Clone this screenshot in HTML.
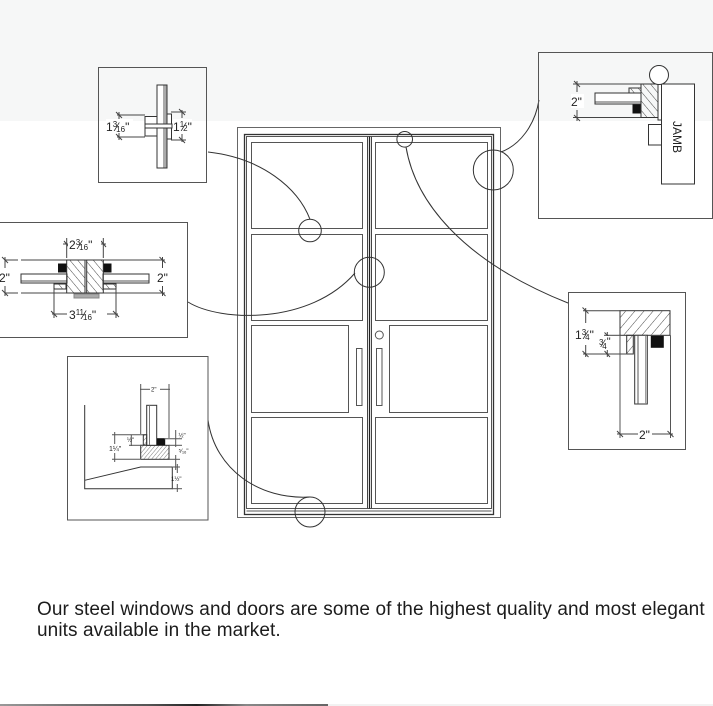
<!DOCTYPE html>
<html>
<head>
<meta charset="utf-8">
<style>
html,body{margin:0;padding:0;background:#fff;}
body{width:713px;height:706px;position:relative;overflow:hidden;}
svg{position:absolute;left:0;top:0;}
.p{position:absolute;left:37px;top:599px;font-family:"Liberation Sans",sans-serif;font-size:19px;line-height:21px;color:#1c1c1c;white-space:nowrap;letter-spacing:0.1px;}
</style>
</head>
<body>
<svg width="713" height="706" viewBox="0 0 713 706" xmlns="http://www.w3.org/2000/svg" font-family="Liberation Sans, sans-serif">
<defs>
<pattern id="hb" patternUnits="userSpaceOnUse" width="6" height="6" patternTransform="rotate(-40)"><line x1="0" y1="0" x2="0" y2="6" stroke="#333" stroke-width="0.9"/></pattern>
<pattern id="hf" patternUnits="userSpaceOnUse" width="7" height="7" patternTransform="rotate(40)"><line x1="0" y1="0" x2="0" y2="7" stroke="#333" stroke-width="0.9"/></pattern>
<pattern id="hs" patternUnits="userSpaceOnUse" width="3" height="3" patternTransform="rotate(40)"><line x1="0" y1="0" x2="0" y2="3" stroke="#444" stroke-width="0.7"/></pattern>
<linearGradient id="strip" x1="0" x2="1" y1="0" y2="0">
<stop offset="0" stop-color="#999"/><stop offset="0.2" stop-color="#777"/><stop offset="0.45" stop-color="#555"/><stop offset="0.6" stop-color="#222"/><stop offset="0.75" stop-color="#888"/><stop offset="1" stop-color="#666"/>
</linearGradient>
</defs>

<!-- top gray band -->
<rect x="0" y="0" width="713" height="121" fill="#f6f7f7"/>

<g fill="none" stroke="#444" stroke-width="1">

<!-- ===== DOOR ===== -->
<rect x="237.5" y="127.5" width="263" height="390" stroke="#666"/>
<rect x="244.5" y="134.5" width="249" height="380" stroke="#333" stroke-width="1.3"/>
<rect x="246.5" y="136.5" width="245" height="372" stroke="#555"/>
<line x1="246.5" y1="511" x2="491.5" y2="511" stroke="#555"/>
<line x1="367.5" y1="136.5" x2="367.5" y2="508.5" stroke="#444"/>
<line x1="369.5" y1="136.5" x2="369.5" y2="508.5" stroke="#222" stroke-width="1.3"/>
<line x1="371.5" y1="136.5" x2="371.5" y2="508.5" stroke="#444"/>
<!-- left panels -->
<rect x="251.5" y="142.5" width="111" height="86" stroke="#555"/>
<rect x="251.5" y="234.5" width="111" height="86" stroke="#555"/>
<rect x="251.5" y="325.5" width="97" height="87" stroke="#555"/>
<rect x="251.5" y="417.5" width="111" height="86" stroke="#555"/>
<!-- right panels -->
<rect x="375.5" y="142.5" width="112" height="86" stroke="#555"/>
<rect x="375.5" y="234.5" width="112" height="86" stroke="#555"/>
<rect x="389.5" y="325.5" width="98" height="87" stroke="#555"/>
<rect x="375.5" y="417.5" width="112" height="86" stroke="#555"/>
<!-- handles -->
<rect x="356.5" y="348.5" width="5.5" height="57" stroke="#555"/>
<rect x="376.5" y="348.5" width="5.5" height="57" stroke="#555"/>
<circle cx="379.3" cy="335" r="4" stroke="#555"/>

<!-- callout circles -->
<circle cx="310" cy="230.5" r="11.3" stroke="#333"/>
<circle cx="369.3" cy="272.3" r="15" stroke="#333"/>
<circle cx="404.7" cy="139.3" r="7.8" stroke="#333"/>
<circle cx="493.3" cy="170" r="20" stroke="#333"/>
<circle cx="310" cy="512" r="15" stroke="#333"/>

<!-- connectors -->
<path d="M208,152 C262,158 298,188 310,219.3" stroke="#333"/>
<path d="M188,302 C220,322 310,325 355,273" stroke="#333"/>
<path d="M406,147 C415,200 460,260 568,303" stroke="#333"/>
<path d="M501,152 C520,145 535,125 539,100" stroke="#333"/>
<path d="M208,420 C215,470 260,500 310,497" stroke="#333"/>

<!-- ===== BOX 1 (top-left) ===== -->
<rect x="98.5" y="67.5" width="108" height="115" stroke="#555"/>
<rect x="157" y="85" width="10" height="83" fill="#fff" stroke="#333"/>
<rect x="163" y="85.5" width="3.5" height="82" fill="#aaa" stroke="none"/>
<rect x="145" y="116.5" width="12" height="19.5" fill="#fff" stroke="#333"/>
<rect x="167" y="114" width="4.5" height="25" fill="#fff" stroke="#333"/>
<rect x="145" y="124" width="27" height="4" fill="#fff" stroke="#333"/>
<line x1="117" y1="115" x2="145" y2="115"/>
<line x1="117" y1="137" x2="145" y2="137"/>
<line x1="119" y1="112" x2="119" y2="120"/>
<line x1="119" y1="132" x2="119" y2="140"/>
<line x1="116" y1="112" x2="122" y2="118"/>
<line x1="116" y1="134" x2="122" y2="140"/>
<line x1="171" y1="112" x2="186" y2="112"/>
<line x1="171" y1="140" x2="186" y2="140"/>
<line x1="182" y1="110" x2="182" y2="118"/>
<line x1="182" y1="134" x2="182" y2="142"/>
<line x1="179" y1="109" x2="185" y2="115"/>
<line x1="179" y1="137" x2="185" y2="143"/>

<!-- ===== BOX 2 (top-right) ===== -->
<rect x="538.5" y="52.5" width="174" height="166" stroke="#555"/>
<line x1="573" y1="84" x2="641" y2="84"/>
<line x1="573" y1="117.5" x2="641" y2="117.5"/>
<line x1="577" y1="81" x2="577" y2="92"/>
<line x1="577" y1="110" x2="577" y2="121"/>
<line x1="574" y1="81" x2="580" y2="87"/>
<line x1="574" y1="115" x2="580" y2="121"/>
<rect x="595" y="93" width="46" height="11" fill="#fff" stroke="#333"/>
<rect x="595.5" y="101" width="45" height="2" fill="#aaa" stroke="none"/>
<rect x="629" y="88" width="12" height="5" fill="url(#hb)" stroke="#333"/>
<rect x="633" y="105" width="8" height="8" fill="#111" stroke="#111"/>
<rect x="641" y="84" width="17" height="33.5" fill="url(#hb)" stroke="#333"/>
<rect x="658" y="84" width="3.5" height="36" fill="#fff" stroke="#333"/>
<rect x="661.5" y="84" width="33" height="100" fill="#fff" stroke="#333"/>
<circle cx="659" cy="75" r="9.5" fill="#fff" stroke="#333"/>
<rect x="648.5" y="124.5" width="13" height="20.5" stroke="#333"/>

<!-- ===== BOX 3 (left middle) ===== -->
<rect x="-5" y="222.5" width="192.5" height="115" stroke="#555"/>
<line x1="5" y1="260" x2="18" y2="260"/><line x1="21" y1="260" x2="165" y2="260"/>
<line x1="5" y1="293" x2="18" y2="293"/><line x1="21" y1="293" x2="165" y2="293"/>
<line x1="5" y1="257" x2="5" y2="268"/><line x1="5" y1="286" x2="5" y2="296"/>
<line x1="2" y1="257" x2="8" y2="263"/><line x1="2" y1="290" x2="8" y2="296"/>
<line x1="162.5" y1="257" x2="162.5" y2="268"/><line x1="162.5" y1="286" x2="162.5" y2="296"/>
<line x1="159.5" y1="257" x2="165.5" y2="263"/><line x1="159.5" y1="290" x2="165.5" y2="296"/>
<rect x="21" y="274" width="46" height="9" fill="#fff" stroke="#333"/>
<rect x="21.5" y="280" width="45" height="2" fill="#aaa" stroke="none"/>
<rect x="103" y="274" width="46" height="9" fill="#fff" stroke="#333"/>
<rect x="103.5" y="280" width="45" height="2" fill="#aaa" stroke="none"/>
<rect x="58.5" y="264" width="7.5" height="8" fill="#111" stroke="#111"/>
<rect x="103.5" y="264" width="7.5" height="8" fill="#111" stroke="#111"/>
<rect x="66.7" y="260" width="18.3" height="33" fill="url(#hb)" stroke="#333"/>
<rect x="86.7" y="260" width="16.6" height="33" fill="url(#hb)" stroke="#333"/>
<rect x="54" y="284" width="12" height="5" fill="url(#hb)" stroke="#333"/>
<rect x="103" y="284" width="13" height="5" fill="url(#hb)" stroke="#333"/>
<rect x="74" y="294" width="25" height="4" fill="#aaa" stroke="#888"/>
<line x1="66.7" y1="238" x2="66.7" y2="258"/>
<line x1="103.3" y1="238" x2="103.3" y2="258"/>
<line x1="63" y1="244" x2="106" y2="244"/>
<line x1="64" y1="241" x2="69" y2="247"/><line x1="101" y1="241" x2="106" y2="247"/>
<line x1="54" y1="289" x2="54" y2="318"/>
<line x1="116" y1="289" x2="116" y2="318"/>
<line x1="52" y1="314" x2="118" y2="314"/>
<line x1="51" y1="311" x2="57" y2="317"/><line x1="113" y1="311" x2="119" y2="317"/>

<!-- ===== BOX 4 (bottom-left) ===== -->
<rect x="67.5" y="356.5" width="140.5" height="163.5" stroke="#555"/>
<polyline points="84.7,405 84.7,488.7 172.3,488.7 172.3,467 140.7,467 84.7,480.3" stroke="#333"/>
<rect x="140.7" y="445.3" width="28.3" height="14" fill="url(#hs)" stroke="#333"/>
<rect x="146.7" y="405.3" width="10" height="40" fill="#fff" stroke="#333"/>
<line x1="149.5" y1="405.3" x2="149.5" y2="445" stroke="#777"/>
<rect x="143.3" y="434.7" width="3.4" height="10.3" fill="url(#hs)" stroke="#333"/>
<rect x="157.3" y="438.7" width="7.4" height="6.3" fill="#111" stroke="#111"/>
<line x1="140.7" y1="384" x2="140.7" y2="434" stroke="#555"/>
<line x1="169" y1="384" x2="169" y2="438" stroke="#555"/>
<line x1="140" y1="389.3" x2="150" y2="389.3" stroke="#555"/>
<line x1="160" y1="389.3" x2="170" y2="389.3" stroke="#555"/>
<line x1="114.7" y1="432" x2="114.7" y2="444" stroke="#555"/>
<line x1="114.7" y1="453" x2="114.7" y2="462" stroke="#555"/>
<line x1="112" y1="434.7" x2="146" y2="434.7" stroke="#555"/>
<line x1="112" y1="459.3" x2="140" y2="459.3" stroke="#555"/>
<line x1="131.3" y1="434.7" x2="131.3" y2="446" stroke="#555"/>
<line x1="129" y1="445.3" x2="143" y2="445.3" stroke="#555"/>
<line x1="175.7" y1="430" x2="175.7" y2="447" stroke="#555"/>
<line x1="164" y1="438.7" x2="182" y2="438.7" stroke="#555"/>
<line x1="169" y1="445.3" x2="182" y2="445.3" stroke="#555"/>
<line x1="175.7" y1="455" x2="175.7" y2="470" stroke="#555"/>
<line x1="169" y1="459.3" x2="180" y2="459.3" stroke="#555"/>
<line x1="172" y1="467" x2="180" y2="467" stroke="#555"/>
<line x1="177.3" y1="464" x2="177.3" y2="473" stroke="#555"/>
<line x1="177.3" y1="484" x2="177.3" y2="492" stroke="#555"/>
<line x1="172" y1="488.7" x2="182" y2="488.7" stroke="#555"/>

<!-- ===== BOX 5 (right middle) ===== -->
<rect x="568.5" y="292.5" width="117" height="157" stroke="#555"/>
<rect x="620" y="310.7" width="50" height="24.6" fill="url(#hf)" stroke="#333"/>
<rect x="626.7" y="335.3" width="6.6" height="18.7" fill="url(#hf)" stroke="#333"/>
<rect x="634.7" y="335.3" width="12.6" height="68.7" fill="#fff" stroke="#333"/>
<line x1="638" y1="335.3" x2="638" y2="404" stroke="#555"/>
<line x1="645.7" y1="335.3" x2="645.7" y2="404" stroke="#888"/>
<rect x="651.3" y="336.3" width="12" height="11" fill="#111" stroke="#111"/>
<line x1="585.7" y1="308" x2="585.7" y2="323"/>
<line x1="585.7" y1="345" x2="585.7" y2="357"/>
<line x1="583" y1="310.7" x2="620" y2="310.7"/>
<line x1="583" y1="354" x2="627" y2="354"/>
<line x1="582.5" y1="307.5" x2="588.5" y2="313.5"/>
<line x1="582.5" y1="351" x2="588.5" y2="357"/>
<line x1="607.3" y1="332" x2="607.3" y2="357"/>
<line x1="604" y1="335.3" x2="620" y2="335.3"/>
<line x1="604.5" y1="332.5" x2="610" y2="338"/>
<line x1="604.5" y1="351" x2="610" y2="357"/>
<line x1="620" y1="335.3" x2="620" y2="438" stroke="#555"/>
<line x1="670.5" y1="335.3" x2="670.5" y2="438" stroke="#555"/>
<line x1="617" y1="434" x2="673" y2="434"/>
<line x1="617" y1="431" x2="623" y2="437"/>
<line x1="667.5" y1="431" x2="673.5" y2="437"/>
</g>

<!-- labels -->
<g fill="#222" font-family="Liberation Sans, sans-serif">
<!-- box1 -->
<rect x="106" y="119" width="27" height="14" fill="#fff"/>
<text x="106" y="131" font-size="12">1<tspan font-size="8" dy="-4">3</tspan><tspan font-size="12" dy="4" dx="-1">⁄</tspan><tspan font-size="8" dx="-2" dy="1">16</tspan><tspan font-size="12" dy="-1">"</tspan></text>
<rect x="173" y="119" width="19" height="14" fill="#fff"/>
<text x="173" y="131" font-size="12">1<tspan font-size="8" dy="-4">1</tspan><tspan font-size="12" dy="4" dx="-1">⁄</tspan><tspan font-size="8" dx="-2" dy="0">2</tspan><tspan font-size="12">"</tspan></text>
<!-- box2 -->
<rect x="571" y="94" width="13" height="14" fill="#fff"/>
<text x="571" y="106" font-size="12">2"</text>
<text x="0" y="0" font-size="12" transform="translate(673,121) rotate(90)">JAMB</text>
<!-- box3 -->
<rect x="0" y="270" width="12" height="14" fill="#fff"/>
<text x="-1" y="282" font-size="12">2"</text>
<rect x="156" y="270" width="13" height="14" fill="#fff"/>
<text x="157" y="282" font-size="12">2"</text>
<rect x="68" y="237" width="33" height="14" fill="#fff"/>
<text x="69" y="249" font-size="12">2<tspan font-size="8" dy="-4">3</tspan><tspan font-size="12" dy="4" dx="-1">⁄</tspan><tspan font-size="8" dx="-2" dy="1">16</tspan><tspan font-size="12" dy="-1">"</tspan></text>
<rect x="67" y="307" width="40" height="14" fill="#fff"/>
<text x="69" y="319" font-size="12">3<tspan font-size="8" dy="-4">11</tspan><tspan font-size="12" dy="4" dx="-1">⁄</tspan><tspan font-size="8" dx="-2" dy="1">16</tspan><tspan font-size="12" dy="-1">"</tspan></text>
<!-- box4 -->
<text x="151" y="391.5" font-size="6">2"</text>
<rect x="109" y="444" width="13" height="9" fill="#fff"/>
<text x="109" y="451" font-size="7">1¼"</text>
<text x="127" y="442" font-size="6">½"</text>
<text x="178.5" y="437.5" font-size="6">½"</text>
<text x="178.5" y="453" font-size="6">⁵⁄₁₆"</text>
<text x="171" y="481" font-size="6">1½"</text>
<!-- box5 -->
<rect x="575" y="326" width="21" height="16" fill="#fff"/>
<text x="575" y="339" font-size="12">1<tspan font-size="8" dy="-4">3</tspan><tspan font-size="12" dy="4" dx="-1">⁄</tspan><tspan font-size="8" dx="-2" dy="1">4</tspan><tspan font-size="12" dy="-1">"</tspan></text>
<rect x="599" y="336" width="17" height="14" fill="#fff"/>
<text x="599" y="345" font-size="8">3<tspan font-size="11" dy="2" dx="-1">⁄</tspan><tspan font-size="8" dx="-2" dy="2">4</tspan><tspan font-size="11" dy="-4">"</tspan></text>
<rect x="638" y="427" width="14" height="14" fill="#fff"/>
<text x="639" y="439" font-size="12">2"</text>
</g>

<!-- bottom strip -->
<rect x="0" y="704" width="328" height="2" fill="url(#strip)"/>
<rect x="328" y="704" width="385" height="2" fill="#f2f2f2"/>
</svg>

<div class="p">Our steel windows and doors are some of the highest quality and most elegant<br>units available in the market.</div>
</body>
</html>
